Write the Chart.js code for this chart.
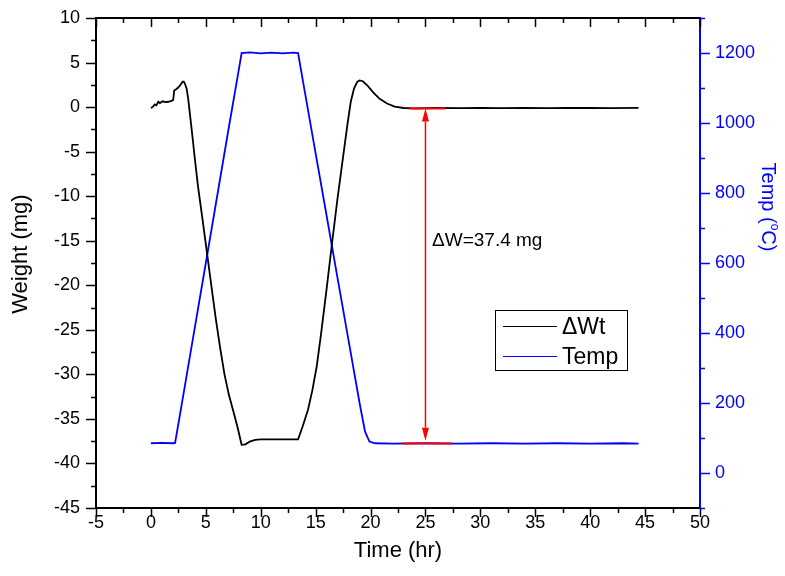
<!DOCTYPE html>
<html lang="en">
<head>
    <meta charset="UTF-8">
    <title>Weight change and temperature vs time</title>
    <script src="https://cdn.jsdelivr.net/npm/chart.js"></script>
    <style>
        body { margin: 0; background: #ffffff; }
        #wrap { width: 785px; height: 576px; }
    </style>
</head>
<body>
    <div id="wrap">
        <canvas id="tgaChart" width="785" height="576"></canvas>
    </div>

    <script>
        // weight change (mg)
        const wtTime = [0, 0.2, 0.36, 0.5, 0.67, 0.82, 1.06, 1.3, 1.58, 1.88, 2.03, 2.12, 2.3, 2.49, 2.7, 2.89, 3.0, 3.1, 3.25, 3.4,
            3.6, 3.8, 4.0, 4.3, 4.7, 5.1, 5.5, 5.9, 6.3, 6.7, 7.1, 7.5, 7.9, 8.26, 8.6, 9.0, 9.5, 10, 11, 12, 13,
            13.4, 13.8, 14.3, 14.7, 15.1, 15.5, 16.0, 16.5, 17.0, 17.5, 17.9, 18.2, 18.5, 18.8, 19.0, 19.3, 19.7, 20.2, 20.8, 21.5,
            22.2, 23, 24, 26, 28, 30, 32, 34, 36, 38, 40, 42, 44.4];
        const wtValue = [-0.1, 0.05, 0.3, 0.2, 0.6, 0.45, 0.65, 0.55, 0.6, 0.7, 0.8, 1.85, 2.0, 2.2, 2.5, 2.85, 2.85, 2.6, 2.1, 0.9,
            -1.3, -3.5, -5.8, -9.0, -12.6, -16.3, -20.0, -23.7, -27.0, -30.0, -32.3, -34.1, -36.0, -37.9, -37.85, -37.55, -37.35, -37.3, -37.3, -37.3, -37.3,
            -37.3, -35.9, -34.0, -31.8, -29.1, -25.4, -20.4, -15.2, -10.2, -5.6, -1.9, 0.6, 2.1, 2.85, 3.0, 2.9, 2.45, 1.7, 0.95, 0.4,
            0.05, -0.1, -0.15, -0.1, -0.12, -0.1, -0.12, -0.1, -0.12, -0.1, -0.1, -0.12, -0.08];

        // furnace temperature (degC)
        const tempTime = [0, 1, 2, 2.2, 2.5, 3, 4, 5, 6, 7, 8, 8.26, 9, 10, 11, 12, 13, 13.4,
            14, 15, 16, 17, 18, 19, 19.5, 19.9, 20.4, 22, 25, 28, 31, 34, 37, 40, 43, 44.4];
        const tempValue = [85, 86, 85, 86, 140, 232, 416, 600, 785, 970, 1152, 1200, 1202, 1199, 1201, 1199, 1201, 1200,
            1092, 913, 735, 556, 378, 200, 118, 90, 85, 84, 85, 84, 85, 84, 85, 84, 85, 84];

        // red reference marks for the weight loss
        const refTopTime = [23.5, 26.8];
        const refTopWeight = [-0.15, -0.15];
        const refBottomTime = [22.9, 27.4];
        const refBottomTemp = [84, 84];
        const arrowTime = 25;
        const arrowFrom = -0.15;
        const arrowTo = -37.45;
        const deltaLabel = '\u0394W=37.4 mg';
        const deltaLabelAt = [25.6, -15];

        const legendNames = ['\u0394Wt', 'Temp'];

        const FONT = "'Liberation Sans', Arial, sans-serif";
        const BLUE = '#0000ff';

        const pairs = (xs, ys) => xs.map((x, i) => ({ x: x, y: ys[i] }));

        // drop the label overhang so the plot box keeps its place
        const noOverhang = s => {
            s.paddingTop = 0;
            s.paddingBottom = 0;
            s.paddingLeft = 0;
            s.paddingRight = 0;
        };

        const axisTicks = {
            id: 'axisTicks',
            afterDraw(chart) {
                const { ctx, chartArea: a, scales } = chart;
                ctx.save();
                ctx.strokeStyle = '#000';
                ctx.lineWidth = 2;
                ctx.beginPath();
                ctx.moveTo(a.left - 1, a.top);
                ctx.lineTo(a.right, a.top);
                ctx.stroke();

                ctx.lineWidth = 1.5;
                scales.x.ticks.forEach(t => {
                    const px = Math.round(scales.x.getPixelForValue(t.value)) + 0.5;
                    const len = t.value % 5 === 0 ? 9 : 5;
                    ctx.beginPath();
                    ctx.moveTo(px, a.bottom);
                    ctx.lineTo(px, a.bottom + len);
                    ctx.moveTo(px, a.top);
                    ctx.lineTo(px, a.top + len);
                    ctx.stroke();
                });
                scales.y.ticks.forEach(t => {
                    const py = Math.round(scales.y.getPixelForValue(t.value)) + 0.5;
                    const len = t.value % 5 === 0 ? 10 : 5;
                    ctx.beginPath();
                    ctx.moveTo(a.left, py);
                    ctx.lineTo(a.left - len, py);
                    ctx.stroke();
                });
                ctx.strokeStyle = BLUE;
                scales.y2.ticks.forEach(t => {
                    const py = Math.round(scales.y2.getPixelForValue(t.value)) + 0.5;
                    const len = t.value % 200 === 0 ? 10 : 5;
                    ctx.beginPath();
                    ctx.moveTo(a.right, py);
                    ctx.lineTo(a.right + len, py);
                    ctx.stroke();
                });
                ctx.restore();
            }
        };

        // side titles: the original sets them a little above the axis middle
        const sideTitles = {
            id: 'sideTitles',
            afterDraw(chart) {
                const { ctx, scales } = chart;
                ctx.save();
                ctx.textBaseline = 'middle';

                ctx.save();
                ctx.fillStyle = '#000';
                ctx.font = '22px ' + FONT;
                ctx.textAlign = 'center';
                ctx.translate(21, scales.y.getPixelForValue(-16.5));
                ctx.rotate(-Math.PI / 2);
                ctx.fillText('Weight (mg)', 0, 0);
                ctx.restore();

                const big = '20px ' + FONT, small = '12px ' + FONT;
                ctx.fillStyle = BLUE;
                ctx.textAlign = 'left';
                ctx.font = big;
                const w1 = ctx.measureText('Temp (').width;
                const w3 = ctx.measureText('C)').width;
                ctx.font = small;
                const w2 = ctx.measureText('o').width;
                const total = w1 + w2 + w3;
                ctx.translate(scales.y2.right - 17, scales.y2.getPixelForValue(760));
                ctx.rotate(Math.PI / 2);
                let x = -total / 2;
                ctx.font = big;
                ctx.fillText('Temp (', x, 0);
                x += w1;
                ctx.font = small;
                ctx.fillText('o', x, -6);
                x += w2;
                ctx.font = big;
                ctx.fillText('C)', x, 0);
                ctx.restore();
            }
        };

        const deltaArrow = {
            id: 'deltaArrow',
            afterDatasetsDraw(chart) {
                const { ctx, scales } = chart;
                const x = scales.x.getPixelForValue(arrowTime);
                const y1 = scales.y.getPixelForValue(arrowFrom);
                const y2 = scales.y.getPixelForValue(arrowTo);
                const head = 13, half = 3.5;
                ctx.save();
                ctx.strokeStyle = '#ff0000';
                ctx.fillStyle = '#ff0000';
                ctx.lineWidth = 1.5;
                ctx.beginPath();
                ctx.moveTo(x, y1 + head);
                ctx.lineTo(x, y2 - head);
                ctx.stroke();
                ctx.beginPath();
                ctx.moveTo(x, y1);
                ctx.lineTo(x - half, y1 + head);
                ctx.lineTo(x + half, y1 + head);
                ctx.closePath();
                ctx.fill();
                ctx.beginPath();
                ctx.moveTo(x, y2);
                ctx.lineTo(x - half, y2 - head);
                ctx.lineTo(x + half, y2 - head);
                ctx.closePath();
                ctx.fill();

                ctx.fillStyle = '#000';
                ctx.font = '19px ' + FONT;
                ctx.textAlign = 'left';
                ctx.textBaseline = 'middle';
                ctx.fillText(deltaLabel, scales.x.getPixelForValue(deltaLabelAt[0]), scales.y.getPixelForValue(deltaLabelAt[1]));
                ctx.restore();
            }
        };

        // legend box sitting inside the plot, like the original
        const boxLegend = {
            id: 'boxLegend',
            afterDraw(chart) {
                const { ctx } = chart;
                const colors = ['#000000', BLUE];
                ctx.save();
                ctx.fillStyle = '#fff';
                ctx.fillRect(495.5, 310.5, 132, 60);
                ctx.strokeStyle = '#000';
                ctx.lineWidth = 1;
                ctx.strokeRect(495.5, 310.5, 132, 60);
                ctx.font = '23px ' + FONT;
                ctx.textBaseline = 'middle';
                legendNames.forEach((name, i) => {
                    const y = 326.5 + i * 30;
                    ctx.strokeStyle = colors[i];
                    ctx.lineWidth = 1.2;
                    ctx.beginPath();
                    ctx.moveTo(503, y);
                    ctx.lineTo(557, y);
                    ctx.stroke();
                    ctx.fillStyle = '#000';
                    ctx.fillText(name, 562, y + 1);
                });
                ctx.restore();
            }
        };

        new Chart(document.getElementById('tgaChart'), {
            type: 'line',
            data: {
                datasets: [
                    {
                        label: 'ref top',
                        data: pairs(refTopTime, refTopWeight),
                        yAxisID: 'y',
                        borderColor: '#ff0000',
                        borderWidth: 2,
                        pointRadius: 0,
                        order: 0
                    },
                    {
                        label: 'ref bottom',
                        data: pairs(refBottomTime, refBottomTemp),
                        yAxisID: 'y2',
                        borderColor: '#ff0000',
                        borderWidth: 2,
                        pointRadius: 0,
                        order: 0
                    },
                    {
                        label: legendNames[0],
                        data: pairs(wtTime, wtValue),
                        yAxisID: 'y',
                        borderColor: '#000000',
                        borderWidth: 1.8,
                        pointRadius: 0,
                        order: 1
                    },
                    {
                        label: legendNames[1],
                        data: pairs(tempTime, tempValue),
                        yAxisID: 'y2',
                        borderColor: BLUE,
                        borderWidth: 1.8,
                        pointRadius: 0,
                        order: 2
                    }
                ]
            },
            options: {
                responsive: false,
                animation: false,
                devicePixelRatio: 1,
                layout: { padding: { top: 18, left: 0, right: 0, bottom: 0 } },
                plugins: {
                    legend: { display: false },
                    tooltip: { enabled: false }
                },
                scales: {
                    x: {
                        type: 'linear',
                        min: -5,
                        max: 50,
                        grid: { display: false, drawTicks: false },
                        border: { display: true, color: '#000', width: 2 },
                        ticks: {
                            stepSize: 2.5,
                            autoSkip: false,
                            maxRotation: 0,
                            padding: 4,
                            color: '#000',
                            font: { family: FONT, size: 18 },
                            callback: v => (v % 5 === 0 ? String(v) : '')
                        },
                        title: {
                            display: true,
                            text: 'Time (hr)',
                            color: '#000',
                            font: { family: FONT, size: 22 },
                            padding: { top: 0, bottom: 12 }
                        },
                        afterFit: s => { s.height = 68; noOverhang(s); }
                    },
                    y: {
                        position: 'left',
                        min: -45,
                        max: 10,
                        grid: { display: false, drawTicks: false },
                        border: { display: true, color: '#000', width: 2 },
                        ticks: {
                            stepSize: 2.5,
                            autoSkip: false,
                            padding: 16,
                            color: '#000',
                            font: { family: FONT, size: 18 },
                            callback: v => (v % 5 === 0 ? String(v) : '')
                        },
                        title: { display: false },
                        afterFit: s => { s.width = 96; noOverhang(s); }
                    },
                    y2: {
                        position: 'right',
                        min: -100,
                        max: 1300,
                        grid: { display: false, drawTicks: false },
                        border: { display: true, color: BLUE, width: 2 },
                        ticks: {
                            stepSize: 100,
                            autoSkip: false,
                            padding: 15,
                            color: BLUE,
                            font: { family: FONT, size: 18 },
                            callback: v => (v % 200 === 0 && v >= 0 && v <= 1200 ? String(v) : '')
                        },
                        title: { display: false },
                        afterFit: s => { s.width = 85; noOverhang(s); }
                    }
                }
            },
            plugins: [axisTicks, sideTitles, deltaArrow, boxLegend]
        });
    </script>
</body>
</html>
